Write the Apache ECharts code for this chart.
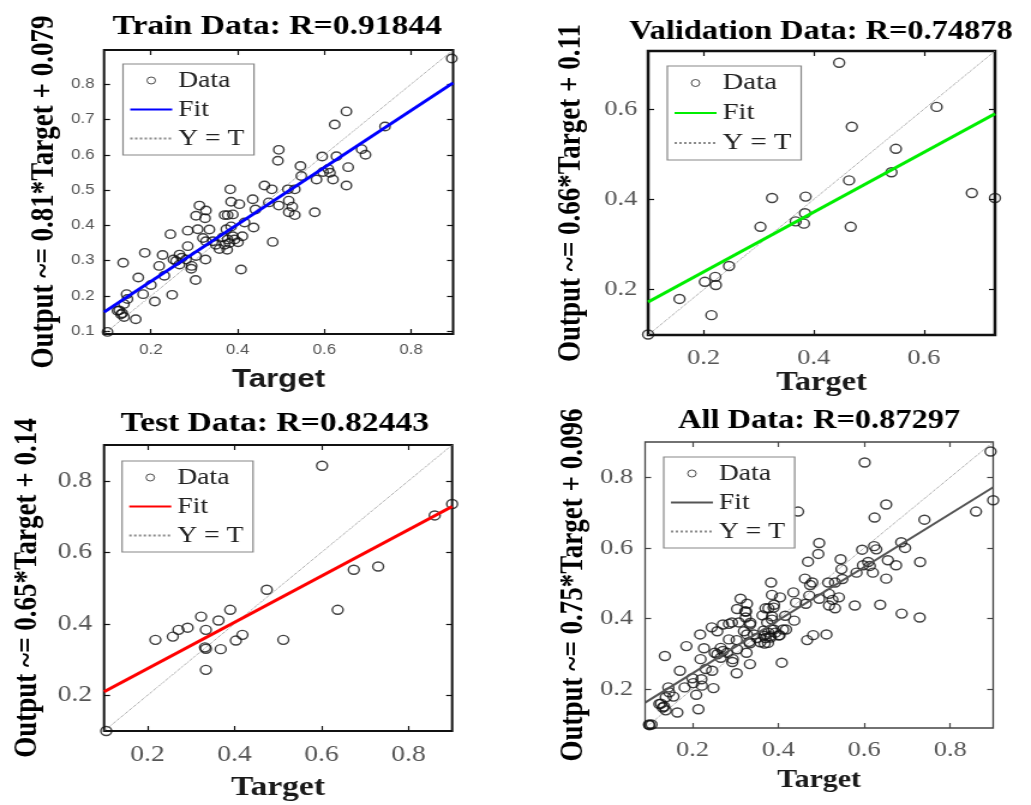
<!DOCTYPE html>
<html>
<head>
<meta charset="utf-8">
<script src="https://cdn.jsdelivr.net/npm/echarts@6.0.0/dist/echarts.min.js"></script>
<style>
html, body { margin: 0; padding: 0; background: #fff; overflow: hidden; }
/* the reference figure is stretched sideways, so the chart is drawn narrower and widened */
#main { width: 859px; height: 805px; transform: scaleX(1.2002); transform-origin: 0 0; }
</style>
</head>
<body>
<div id="main"></div>
<script>
// Train points (Target, Output)
var trainData = [
	[0.894,0.873],[0.651,0.723],[0.624,0.686],[0.740,0.680],[0.495,0.614],[0.493,0.583],
	[0.686,0.616],[0.695,0.600],[0.595,0.595],[0.628,0.596],[0.545,0.568],[0.547,0.540],
	[0.655,0.565],[0.582,0.530],[0.597,0.551],[0.609,0.560],[0.613,0.549],[0.620,0.530],
	[0.651,0.513],[0.462,0.513],[0.479,0.502],[0.516,0.502],[0.532,0.502],[0.383,0.502],
	[0.472,0.465],[0.518,0.470],[0.495,0.456],[0.526,0.453],[0.532,0.429],[0.518,0.437],
	[0.578,0.437],[0.435,0.474],[0.385,0.467],[0.404,0.460],[0.441,0.445],[0.312,0.456],
	[0.327,0.442],[0.304,0.427],[0.325,0.420],[0.370,0.429],[0.377,0.429],[0.389,0.431],
	[0.416,0.408],[0.437,0.394],[0.335,0.388],[0.308,0.389],[0.285,0.385],[0.245,0.375],
	[0.374,0.389],[0.385,0.397],[0.320,0.364],[0.327,0.355],[0.350,0.345],[0.366,0.366],
	[0.377,0.360],[0.389,0.369],[0.381,0.350],[0.401,0.352],[0.411,0.369],[0.358,0.333],
	[0.376,0.331],[0.481,0.353],[0.285,0.341],[0.266,0.317],[0.252,0.303],[0.186,0.322],
	[0.227,0.316],[0.326,0.303],[0.304,0.313],[0.136,0.294],[0.266,0.289],[0.281,0.303],
	[0.219,0.285],[0.293,0.277],[0.231,0.257],[0.171,0.252],[0.303,0.245],[0.408,0.275],
	[0.200,0.231],[0.182,0.205],[0.249,0.203],[0.209,0.184],[0.144,0.205],[0.146,0.191],
	[0.138,0.177],[0.127,0.159],[0.134,0.151],[0.138,0.140],[0.165,0.134],[0.100,0.098],
	[0.123,0.158],[0.131,0.148],[0.271,0.308],[0.294,0.285],[0.343,0.355],[0.370,0.345],
	[0.393,0.360],[0.258,0.299]
];

// Validation points
var valData = [
	[0.446,0.703],[0.623,0.605],[0.469,0.561],[0.549,0.512],[0.541,0.460],[0.464,0.442],
	[0.324,0.403],[0.385,0.406],[0.687,0.414],[0.729,0.403],[0.384,0.369],[0.367,0.351],
	[0.382,0.346],[0.303,0.339],[0.467,0.339],[0.246,0.252],[0.221,0.228],[0.202,0.217],
	[0.222,0.210],[0.156,0.179],[0.214,0.143],[0.099,0.100]
];

// Test points
var testData = [
	[0.601,0.842],[0.900,0.735],[0.860,0.703],[0.730,0.560],[0.674,0.551],[0.474,0.495],
	[0.637,0.439],[0.390,0.439],[0.323,0.420],[0.363,0.409],[0.292,0.389],[0.271,0.383],
	[0.258,0.364],[0.334,0.383],[0.218,0.355],[0.418,0.369],[0.403,0.353],[0.512,0.355],
	[0.332,0.334],[0.334,0.330],[0.368,0.329],[0.334,0.271],[0.105,0.100]
];

// All = every subset together
var allData = trainData.concat(valData, testData);

// Fit line end points
var trainFit = [[0.092,0.154],[0.897,0.804]];
var valFit = [[0.099,0.172],[0.729,0.590]];
var testFit = [[0.100,0.210],[0.900,0.728]];
var allFit = [[0.090,0.162],[0.900,0.772]];

// Y = T line end points (axis limits)
var trainIdent = [[0.092,0.092],[0.897,0.897]];
var valIdent = [[0.099,0.099],[0.729,0.729]];
var testIdent = [[0.100,0.100],[0.900,0.900]];
var allIdent = [[0.090,0.090],[0.900,0.900]];

// Tick values
var ticksTrainX = [0.2, 0.4, 0.6, 0.8];
var ticksTrainY = [0.1, 0.2, 0.3, 0.4, 0.5, 0.6, 0.7, 0.8];
var ticksVal = [0.2, 0.4, 0.6];
var ticksTest = [0.2, 0.4, 0.6, 0.8];
var ticksAll = [0.2, 0.4, 0.6, 0.8];

// Texts
var panelTitles = ['Train Data: R=0.91844', 'Validation Data: R=0.74878', 'Test Data: R=0.82443', 'All Data: R=0.87297'];
var yNames = ['Output ~= 0.81*Target + 0.079', 'Output ~= 0.66*Target + 0.11', 'Output ~= 0.65*Target + 0.14', 'Output ~= 0.75*Target + 0.096'];
var legendNames = ['Data', 'Fit', 'Y = T'];

var SERIF = 'Liberation Serif, Times New Roman, serif';
var SANS = 'Liberation Sans, Arial, sans-serif';

function addPanel(opt, k, p) {
	opt.title.push({
		text : panelTitles[k],
		left : p.titlePos[0],
		top : p.titlePos[1],
		textAlign : 'center',
		padding : 0,
		textStyle : {
			fontFamily : SERIF,
			fontWeight : 'bold',
			fontSize : p.titleSize,
			color : '#000'
		}
	});

	opt.grid.push({
		left : p.box[0],
		top : p.box[1],
		width : p.box[2],
		height : p.box[3],
		show : true,
		borderColor : p.boxColor,
		borderWidth : p.boxWidth,
		backgroundColor : 'transparent',
		outerBoundsMode : 'none'
	});

	var tickStyle = {
		show : true,
		inside : true,
		length : 5,
		lineStyle : {
			color : p.boxColor,
			width : 1.2
		}
	};

	// bottom and top x axes
	opt.xAxis.push({
		type : 'value',
		gridIndex : k,
		min : p.range[0],
		max : p.range[1],
		name : 'Target',
		nameLocation : 'middle',
		nameGap : p.xNameGap,
		nameTextStyle : {
			fontFamily : p.xNameFont,
			fontWeight : 'bold',
			fontSize : p.xNameSize,
			color : '#1a1a1a'
		},
		axisLine : { show : false },
		splitLine : { show : false },
		axisTick : Object.assign({ customValues : p.xTicks }, tickStyle),
		axisLabel : {
			customValues : p.xTicks,
			margin : p.xLabelMargin,
			fontFamily : p.tickFont,
			fontSize : p.tickSize,
			color : '#555'
		}
	});
	opt.xAxis.push({
		type : 'value',
		gridIndex : k,
		position : 'top',
		min : p.range[0],
		max : p.range[1],
		axisLine : { show : false },
		splitLine : { show : false },
		axisTick : Object.assign({ customValues : p.xTicks }, tickStyle),
		axisLabel : { show : false }
	});

	// left and right y axes
	opt.yAxis.push({
		type : 'value',
		gridIndex : k,
		min : p.range[0],
		max : p.range[1],
		name : yNames[k],
		nameLocation : 'middle',
		nameGap : p.yNameGap,
		nameTextStyle : {
			fontFamily : SERIF,
			fontWeight : 'bold',
			fontSize : 27,
			color : '#000'
		},
		axisLine : { show : false },
		splitLine : { show : false },
		axisTick : Object.assign({ customValues : p.yTicks }, tickStyle),
		axisLabel : {
			customValues : p.yTicks,
			margin : p.yLabelMargin,
			fontFamily : p.tickFont,
			fontSize : p.tickSize,
			color : '#555'
		}
	});
	opt.yAxis.push({
		type : 'value',
		gridIndex : k,
		position : 'right',
		min : p.range[0],
		max : p.range[1],
		axisLine : { show : false },
		splitLine : { show : false },
		axisTick : Object.assign({ customValues : p.yTicks }, tickStyle),
		axisLabel : { show : false }
	});

	opt.series.push({
		name : 'Data' + k,
		type : 'scatter',
		xAxisIndex : 2 * k,
		yAxisIndex : 2 * k,
		data : p.data,
		symbol : 'circle',
		symbolSize : p.markSize,
		itemStyle : {
			color : 'rgba(0,0,0,0)',
			borderColor : '#111',
			borderWidth : 1.4
		},
		z : 3
	}, {
		name : 'Fit' + k,
		type : 'line',
		xAxisIndex : 2 * k,
		yAxisIndex : 2 * k,
		data : p.fit,
		symbol : 'none',
		lineStyle : {
			color : p.fitColor,
			width : p.fitWidth
		},
		z : 4
	}, {
		name : 'YT' + k,
		type : 'line',
		xAxisIndex : 2 * k,
		yAxisIndex : 2 * k,
		data : p.ident,
		symbol : 'none',
		lineStyle : {
			color : '#8a8a8a',
			width : 1,
			type : 'dotted'
		},
		z : 2
	});

	opt.legend.push({
		orient : 'vertical',
		left : p.legendPos[0],
		top : p.legendPos[1],
		selectedMode : false,
		data : [ {
			name : 'Data' + k,
			icon : 'circle',
			itemStyle : {
				color : 'rgba(0,0,0,0)',
				borderColor : '#222',
				borderWidth : 1
			}
		}, {
			name : 'Fit' + k,
			itemStyle : { opacity : 0 }
		}, {
			name : 'YT' + k,
			itemStyle : { opacity : 0 }
		} ],
		formatter : function(name) {
			if (name.indexOf('Data') === 0) return legendNames[0];
			if (name.indexOf('Fit') === 0) return legendNames[1];
			return legendNames[2];
		},
		itemWidth : 35,
		itemHeight : 7,
		itemGap : 6,
		padding : [ 5, 8, 5, 5 ],
		borderColor : '#888',
		borderWidth : 1.2,
		backgroundColor : '#fff',
		textStyle : {
			fontFamily : SERIF,
			fontSize : p.legendSize,
			color : '#222'
		}
	});
}

function initPage() {
	var myChart = echarts.init(document.getElementById('main'), null, { renderer : 'canvas' });
	var opt = {
		animation : false,
		backgroundColor : '#fff',
		title : [],
		grid : [],
		xAxis : [],
		yAxis : [],
		series : [],
		legend : []
	};

	addPanel(opt, 0, {
		box : [ 86.7, 50, 290.8, 284 ], range : [ 0.092, 0.897 ],
		xTicks : ticksTrainX, yTicks : ticksTrainY,
		tickFont : SANS, tickSize : 14, xLabelMargin : 9, yLabelMargin : 8,
		titlePos : [ 231, 13 ], titleSize : 28,
		yNameGap : 36, xNameGap : 33, xNameFont : SANS, xNameSize : 26,
		legendPos : [ 102.5, 64 ], legendSize : 23,
		data : trainData, fit : trainFit, ident : trainIdent,
		fitColor : '#0000ff', fitWidth : 3, boxColor : '#111', boxWidth : 2, markSize : 8.5
	});
	addPanel(opt, 1, {
		box : [ 540, 51, 289, 284 ], range : [ 0.099, 0.729 ],
		xTicks : ticksVal, yTicks : ticksVal,
		tickFont : SERIF, tickSize : 22, xLabelMargin : 12, yLabelMargin : 9,
		titlePos : [ 684, 19 ], titleSize : 27,
		yNameGap : 50, xNameGap : 31, xNameFont : SERIF, xNameSize : 27,
		legendPos : [ 556, 66 ], legendSize : 24,
		data : valData, fit : valFit, ident : valIdent,
		fitColor : '#00ee00', fitWidth : 3, boxColor : '#111', boxWidth : 2.5, markSize : 9
	});
	addPanel(opt, 2, {
		box : [ 86.7, 445, 290, 286 ], range : [ 0.1, 0.9 ],
		xTicks : ticksTest, yTicks : ticksTest,
		tickFont : SERIF, tickSize : 23, xLabelMargin : 12, yLabelMargin : 10,
		titlePos : [ 229, 410 ], titleSize : 28,
		yNameGap : 50, xNameGap : 43, xNameFont : SERIF, xNameSize : 28,
		legendPos : [ 101.7, 461 ], legendSize : 23,
		data : testData, fit : testFit, ident : testIdent,
		fitColor : '#ff0000', fitWidth : 3, boxColor : '#111', boxWidth : 2, markSize : 9
	});
	addPanel(opt, 3, {
		box : [ 537.5, 442, 290, 286 ], range : [ 0.09, 0.9 ],
		xTicks : ticksAll, yTicks : ticksAll,
		tickFont : SERIF, tickSize : 22, xLabelMargin : 11, yLabelMargin : 10,
		titlePos : [ 682.5, 408 ], titleSize : 27,
		yNameGap : 46, xNameGap : 40, xNameFont : SERIF, xNameSize : 25,
		legendPos : [ 553, 457 ], legendSize : 23,
		data : allData, fit : allFit, ident : allIdent,
		fitColor : '#555', fitWidth : 2, boxColor : '#444', boxWidth : 1.3, markSize : 9
	});

	myChart.setOption(opt);
}

initPage();
</script>
</body>
</html>
